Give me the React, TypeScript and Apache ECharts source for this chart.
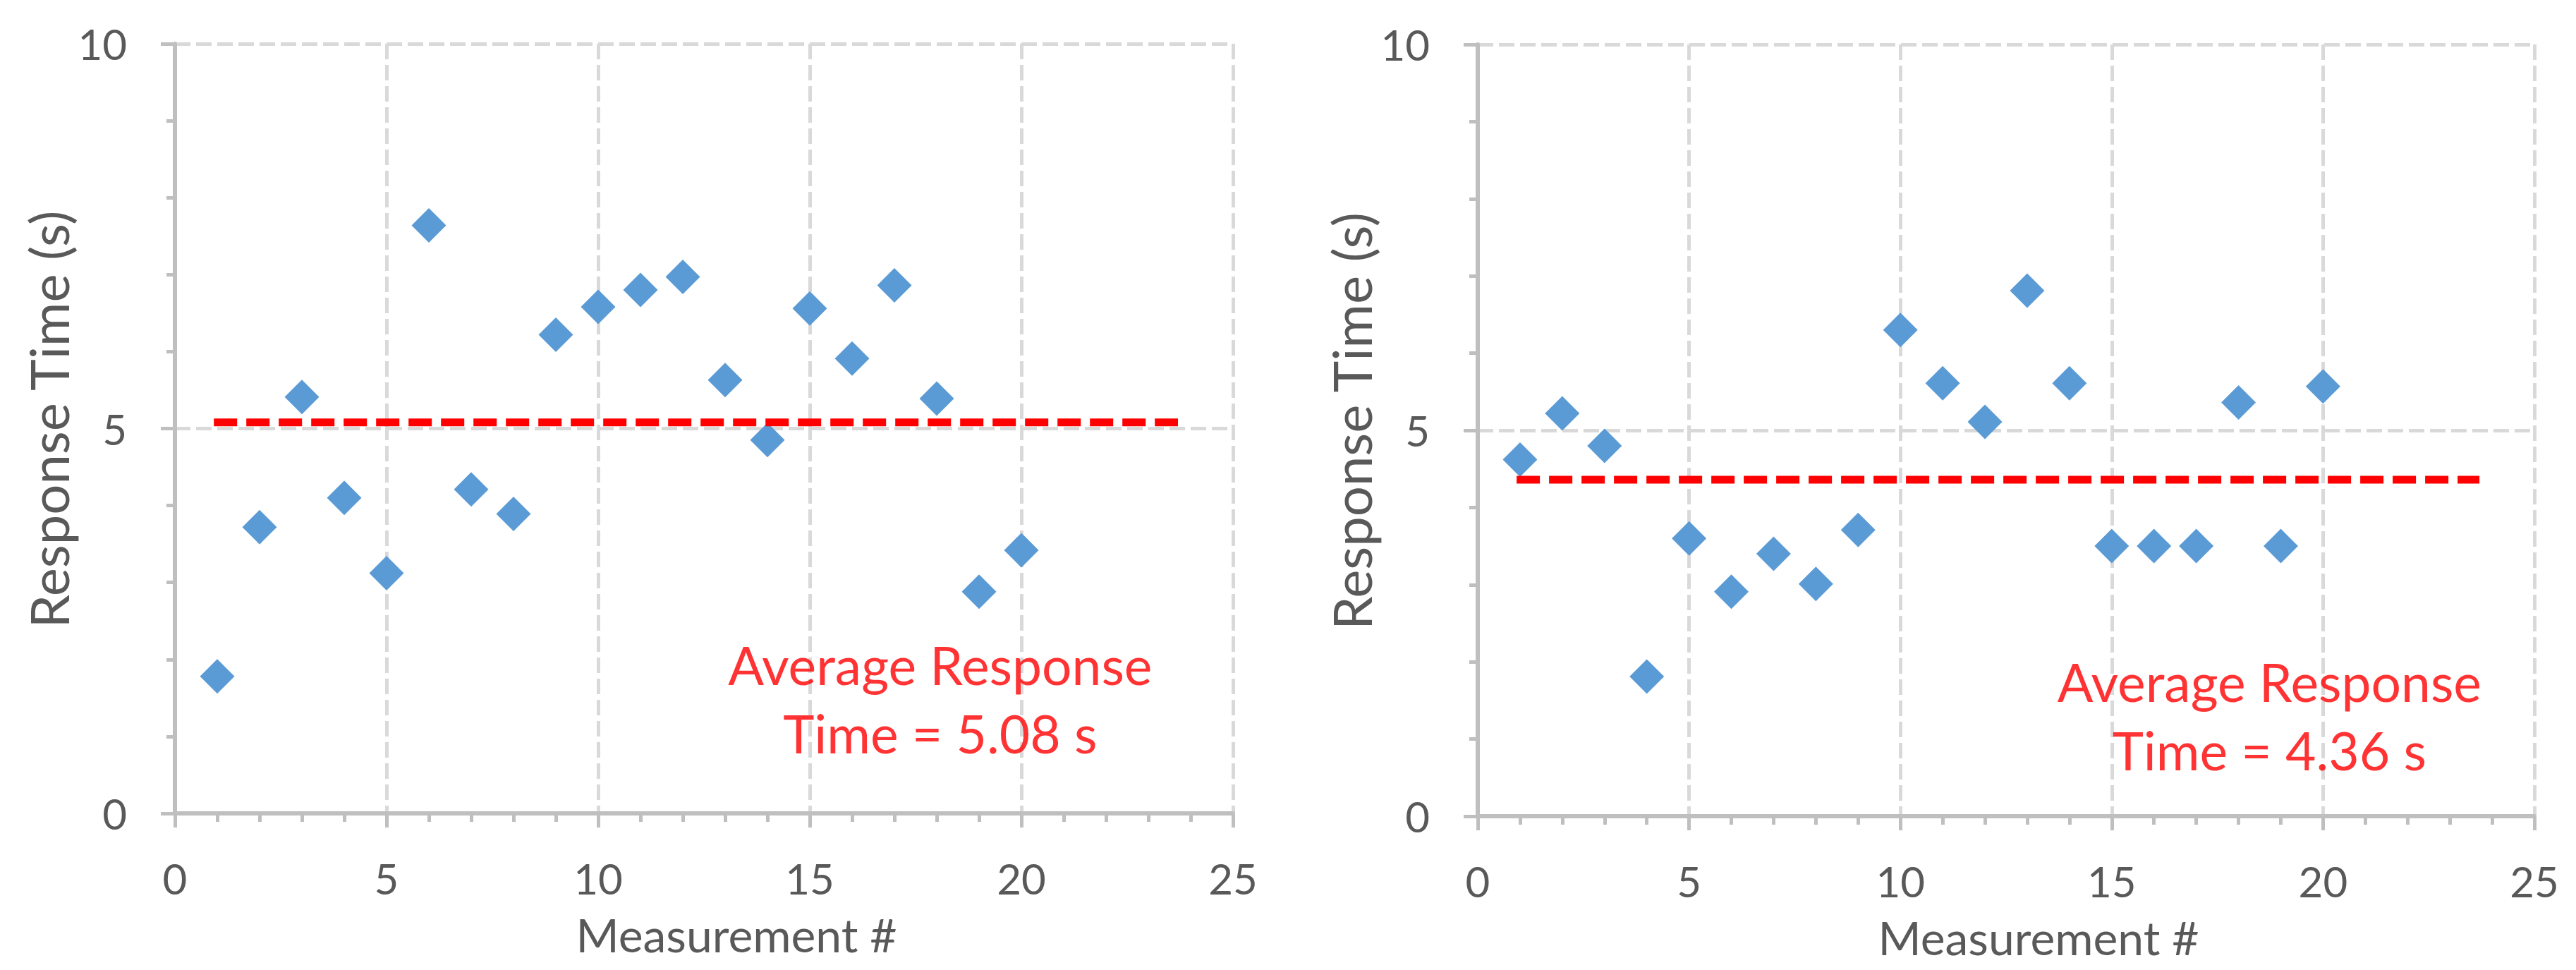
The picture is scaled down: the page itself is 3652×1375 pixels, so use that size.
import { useEffect, useRef } from "react";
import * as echarts from "echarts";

// measurement index, shared by both panels
const measurements = [1, 2, 3, 4, 5, 6, 7, 8, 9, 10, 11, 12, 13, 14, 15, 16, 17, 18, 19, 20];

// response time (s), left panel
const leftTimes = [1.78, 3.72, 5.41, 4.1, 3.12, 7.64, 4.21, 3.89, 6.22, 6.58, 6.8, 6.97, 5.63, 4.85, 6.56, 5.91, 6.86, 5.39, 2.88, 3.42];
// response time (s), right panel
const rightTimes = [4.62, 5.22, 4.8, 1.81, 3.6, 2.91, 3.4, 3.01, 3.71, 6.3, 5.61, 5.11, 6.81, 5.61, 3.5, 3.5, 3.5, 5.36, 3.5, 5.57];

const averages = [5.08, 4.36];
// x extent of the dashed average line
const avgLineX = [0.92, 23.7];
// where the average label sits, in data units [x, y]
const avgLabelAt = [
  [18.08, 1.49],
  [18.73, 1.3],
];

const xTicks = { min: 0, max: 25, interval: 5 };
const yTicks = { min: 0, max: 10, interval: 5 };

const FONT = "Lato, sans-serif";
const GREY_TEXT = "#595959";
const AXIS_GREY = "#bfbfbf";
const GRID_GREY = "#d9d9d9";
const BLUE = "#5b9bd5";
const RED = "#ff0000";

const grids = [
  { left: 248, top: 62, width: 1500, height: 1091 },
  { left: 2095, top: 63, width: 1498, height: 1094 },
];

function xAxisFor(gridIndex: number): any {
  return {
    gridIndex,
    type: "value",
    ...xTicks,
    name: "Measurement #",
    nameLocation: "middle",
    nameGap: 138,
    nameTextStyle: { color: GREY_TEXT, fontSize: 66, fontFamily: FONT, padding: [0, 0, 0, 92] },
    axisLine: { show: true, onZero: false, lineStyle: { color: AXIS_GREY, width: 6 } },
    axisTick: { show: true, length: 20, lineStyle: { color: AXIS_GREY, width: 5 } },
    minorTick: { show: true, splitNumber: 5, length: 12, lineStyle: { color: AXIS_GREY, width: 5 } },
    axisLabel: { color: GREY_TEXT, fontSize: 60, fontFamily: FONT, margin: 62 },
    splitLine: { show: true, lineStyle: { color: GRID_GREY, width: 5, type: [22, 8] } },
  };
}

function yAxisFor(gridIndex: number): any {
  return {
    gridIndex,
    type: "value",
    ...yTicks,
    axisLine: { show: true, onZero: false, lineStyle: { color: AXIS_GREY, width: 6 } },
    axisTick: { show: true, length: 20, lineStyle: { color: AXIS_GREY, width: 5 } },
    minorTick: { show: true, splitNumber: 5, length: 12, lineStyle: { color: AXIS_GREY, width: 5 } },
    axisLabel: { color: GREY_TEXT, fontSize: 60, fontFamily: FONT, margin: 68 },
    splitLine: { show: true, lineStyle: { color: GRID_GREY, width: 5, type: [22, 8] } },
  };
}

// y-axis title, rotated, sitting left of the axis and a touch above centre
function yTitleFor(gridIndex: number): any {
  const g = grids[gridIndex];
  return {
    type: "text",
    x: g.left - 180,
    y: g.top + g.height / 2 - 13,
    rotation: Math.PI / 2,
    style: {
      text: "Response Time (s)",
      fill: GREY_TEXT,
      fontSize: 76,
      fontFamily: FONT,
      align: "center",
      verticalAlign: "middle",
    },
  };
}

function panelSeries(idx: number, times: number[]): any[] {
  const avg = averages[idx];
  const [lx, ly] = avgLabelAt[idx];
  return [
    {
      type: "scatter",
      xAxisIndex: idx,
      yAxisIndex: idx,
      symbol: "diamond",
      symbolSize: 49,
      itemStyle: { color: BLUE, opacity: 1 },
      data: measurements.map((m, i) => [m, times[i]]),
      z: 3,
    },
    {
      type: "line",
      xAxisIndex: idx,
      yAxisIndex: idx,
      symbol: "none",
      lineStyle: { color: RED, width: 11, type: [33, 13] },
      data: avgLineX.map((x) => [x, avg]),
      z: 4,
    },
    {
      type: "scatter",
      xAxisIndex: idx,
      yAxisIndex: idx,
      symbolSize: 0,
      silent: true,
      data: [[lx, ly]],
      label: {
        show: true,
        position: "inside",
        formatter: `Average Response\nTime = ${avg.toFixed(2)} s`,
        color: RED,
        fontSize: 75,
        fontFamily: FONT,
        lineHeight: 97,
        align: "center",
      },
      z: 5,
    },
  ];
}

export default function App() {
  const chartRef = useRef<HTMLDivElement>(null);

  useEffect(() => {
    if (!chartRef.current) return;
    const chart = echarts.init(chartRef.current, undefined, { renderer: "svg" });
    chart.setOption({
      animation: false,
      backgroundColor: "#ffffff",
      grid: grids,
      xAxis: [xAxisFor(0), xAxisFor(1)],
      yAxis: [yAxisFor(0), yAxisFor(1)],
      graphic: [yTitleFor(0), yTitleFor(1)],
      series: [...panelSeries(0, leftTimes), ...panelSeries(1, rightTimes)],
    });
    return () => chart.dispose();
  }, []);

  return (
    <div style={{ position: "fixed", left: 0, top: 0, width: 3652, height: 1375, background: "#fff" }}>
      <div ref={chartRef} style={{ width: 3652, height: 1375 }} />
    </div>
  );
}
